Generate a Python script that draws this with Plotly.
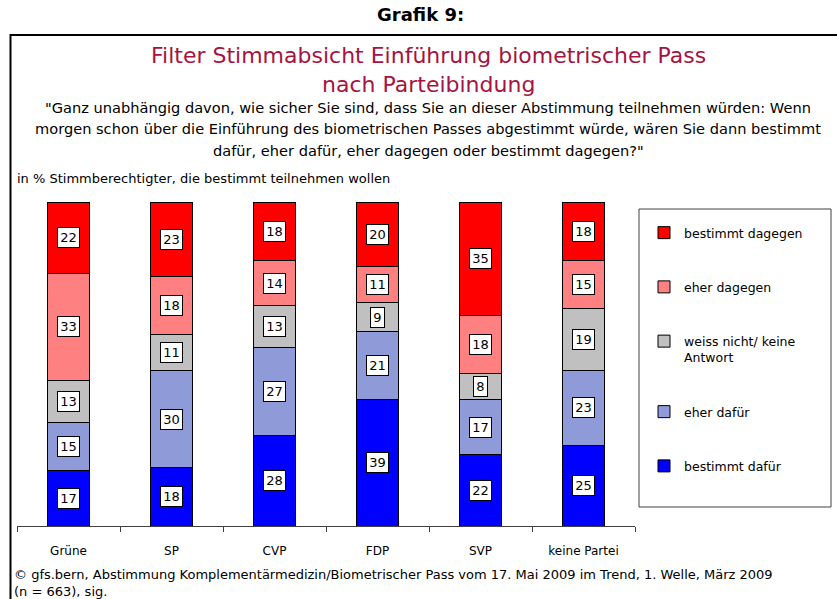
import plotly.graph_objects as go

# ==================== DATA ====================
parties = ["Grüne", "SP", "CVP", "FDP", "SVP", "keine Partei"]

bestimmt_dafuer = [17, 18, 28, 39, 22, 25]
eher_dafuer = [15, 30, 27, 21, 17, 23]
weiss_nicht = [13, 11, 13, 9, 8, 19]
eher_dagegen = [33, 18, 14, 11, 18, 15]
bestimmt_dagegen = [22, 23, 18, 20, 35, 18]

series_names = [
    "bestimmt dafür",
    "eher dafür",
    "weiss nicht/ keine<br>Antwort",
    "eher dagegen",
    "bestimmt dagegen",
]
series_values = [bestimmt_dafuer, eher_dafuer, weiss_nicht, eher_dagegen, bestimmt_dagegen]
series_colors = ["#0000FF", "#8E9BD8", "#C0C0C0", "#FF8080", "#FF0000"]

title_lines = ["Filter Stimmabsicht Einführung biometrischer Pass", "nach Parteibindung"]
question_lines = [
    "\"Ganz unabhängig davon, wie sicher Sie sind, dass Sie an dieser Abstimmung teilnehmen würden: Wenn",
    "morgen schon über die Einführung des biometrischen Passes abgestimmt würde, wären Sie dann bestimmt",
    "dafür, eher dafür, eher dagegen oder bestimmt dagegen?\"",
]
unit_note = "in % Stimmberechtigter, die bestimmt teilnehmen wollen"
footer_lines = [
    "© gfs.bern, Abstimmung Komplementärmedizin/Biometrischer Pass vom 17. Mai 2009 im Trend, 1. Welle, März 2009",
    "(n = 663), sig.",
]

# ==================== LAYOUT CONSTANTS ====================
W, H = 837, 599
PLOT_L, PLOT_R, PLOT_T, PLOT_B = 17, 635, 202, 526
FONT = "DejaVu Sans, Verdana, sans-serif"
TITLE_COLOR = "#A6133F"


def px(x, y):
    """pixel position -> paper coordinates"""
    return (x - PLOT_L) / (PLOT_R - PLOT_L), (PLOT_B - y) / (PLOT_B - PLOT_T)


fig = go.Figure()

n_series = len(series_names)
for k, (name, vals, col) in enumerate(zip(series_names, series_values, series_colors)):
    fig.add_trace(go.Bar(
        x=parties,
        y=vals,
        name=name,
        legendgroup=name,
        legendrank=n_series - k,  # top segment first in the legend
        marker=dict(color=col, line=dict(color="#000000", width=1)),
        hoverinfo="x+y+name",
    ))

# value boxes in the middle of every segment
annotations = []
bases = [0] * len(parties)
for vals in series_values:
    for i, v in enumerate(vals):
        annotations.append(dict(
            x=parties[i], y=bases[i] + v / 2, xref="x", yref="y",
            text=str(v), showarrow=False,
            font=dict(family=FONT, size=13, color="#000000"),
            bgcolor="#FFFFFF", bordercolor="#000000", borderwidth=1, borderpad=1,
            width=19 if v >= 10 else 11, height=17,
        ))
        bases[i] += v


def text_ann(text, x, y, size, color="#000000", anchor="center", bold=False):
    ax, ay = px(x, y)
    return dict(
        x=ax, y=ay, xref="paper", yref="paper", text=f"<b>{text}</b>" if bold else text,
        showarrow=False, xanchor=anchor, yanchor="middle",
        font=dict(family=FONT, size=size, color=color),
    )


annotations.append(text_ann("Grafik 9:", 420, 14, 18, bold=True))
for k, line in enumerate(title_lines):
    annotations.append(text_ann(line, 428, 55 + 30 * k, 22, TITLE_COLOR))
for k, line in enumerate(question_lines):
    annotations.append(text_ann(line, 428, 107 + 21.5 * k, 14.6))
annotations.append(text_ann(unit_note, 15, 179, 13, anchor="left"))
for k, line in enumerate(footer_lines):
    annotations.append(text_ann(line, 12, 574 + 17 * k, 13, anchor="left"))

# outer frame and legend box
fx0, fy0 = px(10.5, 35)
fx1, fy1 = px(845, 610)
lx0, ly0 = px(639, 209)
lx1, ly1 = px(831, 507)
shapes = [
    dict(type="rect", xref="paper", yref="paper", x0=fx0, y0=fy1, x1=fx1, y1=fy0,
         line=dict(color="#000000", width=2), layer="above"),
    dict(type="rect", xref="paper", yref="paper", x0=lx0, y0=ly1, x1=lx1, y1=ly0,
         line=dict(color="#404040", width=1)),
]

leg_x, leg_y = px(644, 218)

fig.update_layout(
    width=W, height=H,
    barmode="stack", bargap=0.6,
    paper_bgcolor="#FFFFFF", plot_bgcolor="#FFFFFF",
    margin=dict(l=PLOT_L, r=W - PLOT_R, t=PLOT_T, b=H - PLOT_B, autoexpand=False),
    font=dict(family=FONT, color="#000000"),
    xaxis=dict(
        showline=True, linecolor="#404040", linewidth=1,
        ticks="outside", tickson="boundaries", ticklen=5, tickcolor="#404040",
        tickfont=dict(family=FONT, size=12, color="#000000"), ticklabelstandoff=14,
        showgrid=False, zeroline=False, fixedrange=True,
    ),
    yaxis=dict(range=[0, 100], visible=False, showgrid=False, fixedrange=True),
    showlegend=True,
    legend=dict(
        x=leg_x, y=leg_y, xanchor="left", yanchor="top",
        traceorder="grouped", tracegroupgap=35, valign="top",
        font=dict(family=FONT, size=12.5, color="#000000"),
        bgcolor="rgba(0,0,0,0)", borderwidth=0,
    ),
    annotations=annotations,
    shapes=shapes,
)

# drop the browser's default body margin so the figure sits at the top-left corner
fig.write_html(
    "out.html",
    config={"displayModeBar": False},
    post_script="document.body.style.margin='0';",
)
